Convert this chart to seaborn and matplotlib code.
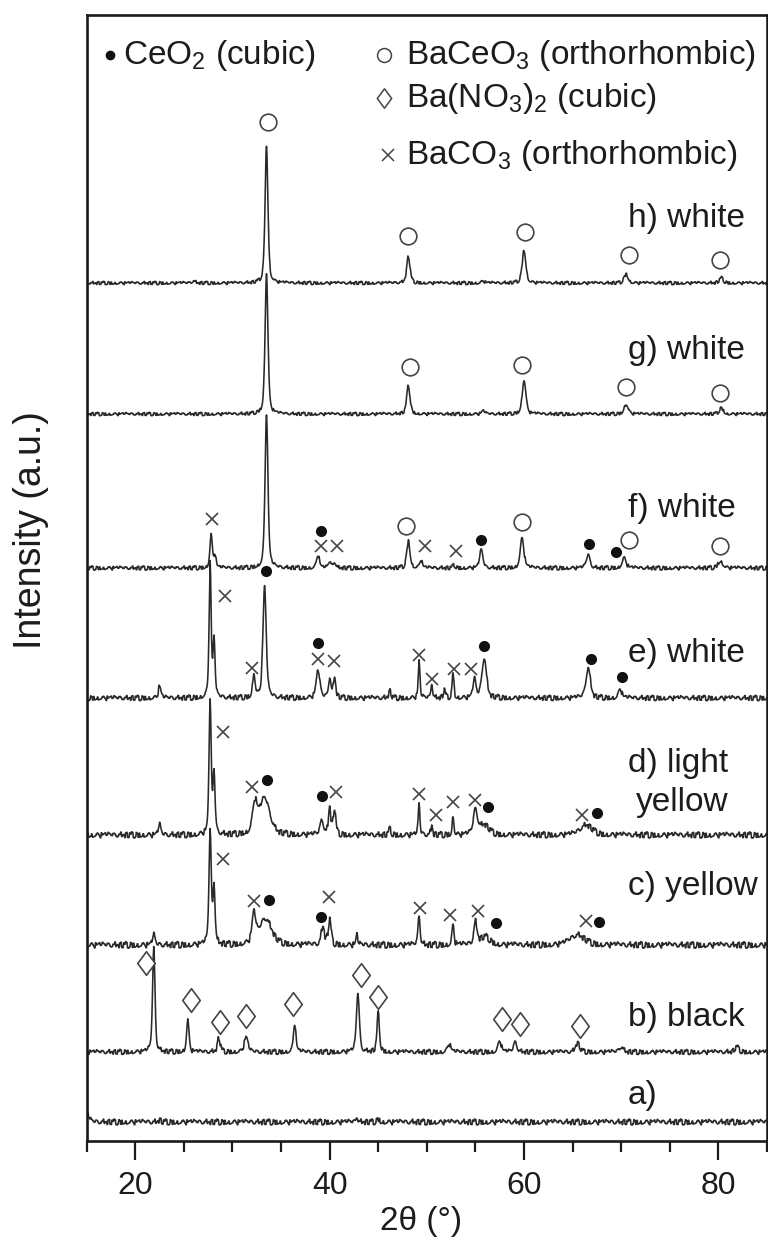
import numpy as np
import pandas as pd
import matplotlib
matplotlib.use("Agg")
import matplotlib.pyplot as plt
import seaborn as sns
from matplotlib.path import Path
from matplotlib.ticker import MultipleLocator, NullLocator

# ---------------- data ----------------
# y-units: pixels above the x axis of the original figure
SAMPLES = ["a", "b", "c", "d", "e", "f", "g", "h"]
LABELS = ["a)", "b) black", "c) yellow", "d) light\nyellow", "e) white",
          "f) white", "g) white", "h) white"]
OFFSETS = [19, 89, 196, 306, 443, 573, 727, 858]
LABEL_Y = [46, 124, 255, 358, 488, 633, 791, 923]

# peaks: (2theta, height, fwhm)
PEAKS_A = [(15.0, 9, 0.5), (42.8, 6, 0.2), (45.0, 3, 0.3), (22.5, 2, 0.3)]
PEAKS_B = [(21.9, 104, 0.30), (25.4, 32, 0.30), (28.6, 14, 0.35), (31.4, 15, 0.45),
           (36.4, 29, 0.30), (42.9, 59, 0.35), (45.0, 39, 0.30), (52.3, 8, 0.40),
           (57.5, 11, 0.40), (59.1, 10, 0.40), (65.5, 9, 0.50), (70.0, 5, 0.50),
           (81.9, 5, 0.50)]
PEAKS_C = [(21.9, 10, 0.30), (27.7, 112, 0.28), (28.1, 58, 0.25), (32.2, 28, 0.45),
           (33.4, 26, 1.50), (39.3, 18, 0.40), (40.0, 25, 0.35), (42.8, 10, 0.20),
           (49.2, 30, 0.25), (52.7, 20, 0.25), (55.0, 22, 0.40), (56.0, 8, 1.20),
           (65.5, 10, 1.80)]
PEAKS_D = [(22.5, 10, 0.30), (27.7, 133, 0.26), (28.1, 60, 0.25), (32.3, 28, 0.55),
           (33.3, 36, 1.30), (39.2, 15, 0.40), (40.0, 27, 0.30), (40.5, 26, 0.30),
           (46.2, 6, 0.30), (49.2, 31, 0.20), (50.5, 10, 0.20), (52.7, 20, 0.20),
           (55.0, 24, 0.50), (55.9, 10, 1.20), (66.4, 10, 1.50)]
PEAKS_E = [(22.5, 12, 0.30), (27.7, 133, 0.25), (28.1, 55, 0.25), (32.2, 24, 0.30),
           (33.3, 111, 0.40), (38.8, 27, 0.45), (40.0, 20, 0.30), (40.5, 20, 0.30),
           (46.2, 7, 0.30), (49.2, 37, 0.20), (50.5, 15, 0.20), (51.8, 8, 0.25),
           (52.7, 27, 0.20), (54.9, 18, 0.35), (55.9, 40, 0.55), (66.6, 30, 0.55),
           (69.9, 9, 0.40)]
PEAKS_F = [(27.8, 33, 0.30), (28.2, 13, 0.25), (33.5, 155, 0.35), (38.8, 13, 0.35),
           (40.0, 6, 0.30), (40.5, 6, 0.30), (48.1, 27, 0.40), (49.4, 8, 0.30),
           (52.8, 3, 0.30), (55.6, 18, 0.40), (59.8, 30, 0.45), (66.6, 13, 0.45),
           (70.3, 10, 0.50), (80.2, 7, 0.60)]
PEAKS_G = [(33.5, 141, 0.35), (48.1, 29, 0.40), (55.8, 3, 0.40), (60.0, 34, 0.45),
           (70.5, 10, 0.50), (80.3, 6, 0.50)]
PEAKS_H = [(33.5, 138, 0.35), (48.1, 27, 0.40), (55.8, 2, 0.40), (60.0, 33, 0.45),
           (70.5, 9, 0.50), (80.3, 5, 0.50), (26.0, 2, 0.4)]
PEAK_TABLES = [PEAKS_A, PEAKS_B, PEAKS_C, PEAKS_D, PEAKS_E, PEAKS_F, PEAKS_G, PEAKS_H]

# hand-typed baseline jitter (pixels)
JITTER = [0.6, -0.8, 1.2, -0.3, 0.9, -1.4, 0.2, 1.0, -0.6, -1.1, 0.7, 0.3, -0.9, 1.3,
          -0.2, 0.5, -1.2, 0.8, -0.4, 1.1, -0.7, 0.1, -1.0, 0.9, 0.4, -1.3, 0.6, -0.1,
          1.2, -0.8, 0.3, -0.5, 1.0, -1.1, 0.2, 0.7, -0.6, 1.4, -0.9, 0.0, 0.8, -1.2,
          0.5, -0.3, 1.1, -0.7, 0.4, -1.0, 0.9, -0.2, 0.6, -1.3, 0.3]
NOISE_SCALE = [2.1, 1.8, 2.3, 2.2, 1.9, 1.5, 1.2, 1.2]

# phase markers: (sample, 2theta, height above that sample's baseline)
CEO2_MARKS = [("f", 39.1, 37), ("f", 55.6, 28), ("f", 66.7, 24), ("f", 69.5, 16),
              ("e", 33.5, 127), ("e", 38.8, 55), ("e", 55.9, 52), ("e", 66.9, 39),
              ("e", 70.1, 21),
              ("d", 33.6, 55), ("d", 39.2, 39), ("d", 56.3, 28), ("d", 67.5, 22),
              ("c", 33.8, 45), ("c", 39.1, 28), ("c", 57.1, 22), ("c", 67.7, 23)]
BACEO3_MARKS = [("h", 33.65, 161), ("h", 48.1, 47), ("h", 60.1, 51), ("h", 70.8, 28),
                ("h", 80.2, 23),
                ("g", 48.3, 47), ("g", 59.8, 49), ("g", 70.5, 27), ("g", 80.2, 21),
                ("f", 47.9, 42), ("f", 59.8, 46), ("f", 70.8, 28), ("f", 80.2, 22)]
BANO3_MARKS = [("b", 21.1, 89), ("b", 25.7, 52), ("b", 28.7, 30), ("b", 31.4, 36),
               ("b", 36.2, 48), ("b", 43.2, 77), ("b", 45.0, 55), ("b", 57.7, 33),
               ("b", 59.6, 28), ("b", 65.8, 26)]
BACO3_MARKS = [("f", 27.9, 49), ("f", 39.1, 22), ("f", 40.8, 22), ("f", 49.8, 22),
               ("f", 53.0, 17),
               ("e", 29.2, 102), ("e", 32.0, 30), ("e", 38.8, 39), ("e", 40.4, 37),
               ("e", 49.2, 43), ("e", 50.5, 19), ("e", 52.8, 29), ("e", 54.5, 29),
               ("d", 29.0, 103), ("d", 32.0, 48), ("d", 40.6, 43), ("d", 49.2, 41),
               ("d", 50.9, 20), ("d", 52.7, 33), ("d", 55.0, 35), ("d", 66.0, 20),
               ("c", 29.0, 86), ("c", 32.2, 44), ("c", 39.9, 48), ("c", 49.3, 37),
               ("c", 52.4, 30), ("c", 55.3, 34), ("c", 66.4, 24)]

LEGEND_TEXT = ["CeO$_2$ (cubic)", "BaCeO$_3$ (orthorhombic)",
               "Ba(NO$_3$)$_2$ (cubic)", "BaCO$_3$ (orthorhombic)"]
LEGEND_X = [17.4, 45.6, 45.6, 46.0]
LEGEND_Y = [1086, 1086, 1043, 986]
LEGEND_TX = [18.7, 47.9, 47.9, 47.9]

X_TICKS = [20, 40, 60, 80]

# ---------------- build long table ----------------
two_theta = np.arange(15.0, 85.0001, 0.05)


def pseudo_voigt(x, c, h, w, eta=0.5):
    g = np.exp(-4 * np.log(2) * ((x - c) / w) ** 2)
    lor = 1.0 / (1.0 + 4 * ((x - c) / w) ** 2)
    return h * (eta * lor + (1 - eta) * g)


rows = []
for k, (s, off, peaks) in enumerate(zip(SAMPLES, OFFSETS, PEAK_TABLES)):
    y = np.full_like(two_theta, float(off))
    for c, h, w in peaks:
        y += pseudo_voigt(two_theta, c, h, w)
    idx = (np.arange(len(two_theta)) // 2 * 7 + k * 11) % len(JITTER)
    y += np.array(JITTER)[idx] * NOISE_SCALE[k]
    rows.append(pd.DataFrame({"two_theta": two_theta, "intensity": y, "sample": s}))
df = pd.concat(rows, ignore_index=True)

base = dict(zip(SAMPLES, OFFSETS))


def mark_xy(marks):
    return [m[1] for m in marks], [base[m[0]] + m[2] for m in marks]


# ---------------- plot ----------------
sns.set_theme(style="ticks")
plt.rcParams["font.family"] = ["Liberation Sans", "DejaVu Sans"]
plt.rcParams["mathtext.fontset"] = "custom"
plt.rcParams["mathtext.rm"] = "Liberation Sans"
plt.rcParams["mathtext.it"] = "Liberation Sans:italic"
plt.rcParams["mathtext.bf"] = "Liberation Sans:bold"

TXT = "#1c1c1c"
LINE = "#2a2a2a"

fig = plt.figure(figsize=(7.68, 12.54), dpi=100)
ax = fig.add_axes([0.1129, 0.0901, 0.8858, 0.8979])

sns.lineplot(data=df, x="two_theta", y="intensity", hue="sample",
             palette=[LINE] * len(SAMPLES), estimator=None, sort=False,
             linewidth=1.15, legend=False, ax=ax)

diamond = Path([(0, 1), (0.74, 0), (0, -1), (-0.74, 0), (0, 1)],
               [Path.MOVETO, Path.LINETO, Path.LINETO, Path.LINETO, Path.CLOSEPOLY])

x, y = mark_xy(CEO2_MARKS)
ax.plot(x, y, ls="none", marker="o", ms=7, mfc="#111111", mec="#111111")
x, y = mark_xy(BACEO3_MARKS)
ax.plot(x, y, ls="none", marker="o", ms=12, mfc="white", mec="#444444", mew=1.2)
x, y = mark_xy(BANO3_MARKS)
ax.plot(x, y, ls="none", marker=diamond, ms=17, mfc="white", mec="#444444", mew=1.2)
x, y = mark_xy(BACO3_MARKS)
ax.plot(x, y, ls="none", marker="x", ms=9, mec="#444444", mew=1.2)

# legend-like annotations
leg_styles = [dict(marker="o", ms=6, mfc="#111111", mec="#111111"),
              dict(marker="o", ms=10, mfc="white", mec="#444444", mew=1.1),
              dict(marker=diamond, ms=14, mfc="white", mec="#444444", mew=1.1),
              dict(marker="x", ms=8, mec="#444444", mew=1.1)]
for t, mx, my, tx, st in zip(LEGEND_TEXT, LEGEND_X, LEGEND_Y, LEGEND_TX, leg_styles):
    ax.plot([mx], [my], ls="none", **st)
    ax.text(tx, my, t, ha="left", va="center", fontsize=24, color=TXT)

for lab, ly in zip(LABELS, LABEL_Y):
    ax.text(70.7, ly, lab, ha="left", va="center", fontsize=24, color=TXT,
            multialignment="right", linespacing=1.36)

ax.set_xlim(15, 85)
ax.set_ylim(0, 1126)
ax.set_xticks(X_TICKS)
ax.xaxis.set_minor_locator(MultipleLocator(5))
ax.yaxis.set_major_locator(NullLocator())
ax.yaxis.set_minor_locator(NullLocator())
ax.tick_params(axis="x", which="major", direction="out", length=13.5, width=1.6,
               labelsize=23, pad=8, colors=TXT)
ax.tick_params(axis="x", which="minor", direction="out", length=8, width=1.6, colors=TXT)
for sp in ax.spines.values():
    sp.set_visible(True)
    sp.set_linewidth(1.9)
    sp.set_color("#1a1a1a")

ax.set_xlabel("2θ (°)", fontsize=24, color=TXT)
ax.set_ylabel("Intensity (a.u.)", fontsize=27, color=TXT)
ax.xaxis.set_label_coords(0.491, -0.058)
ax.yaxis.set_label_coords(-0.055, 0.543)

fig.savefig("out.png", dpi=100, facecolor="white")
